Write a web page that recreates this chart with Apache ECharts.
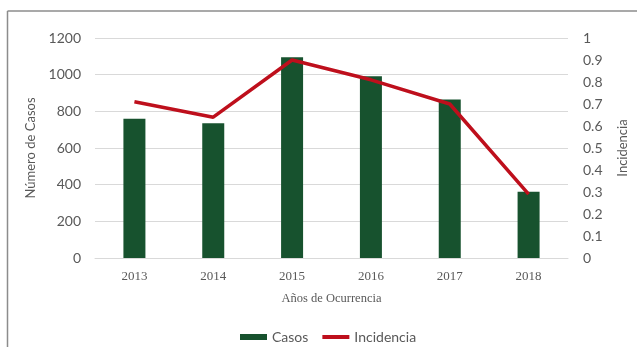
<!DOCTYPE html>
<html>
<head>
<meta charset="utf-8">
<script src="https://cdn.jsdelivr.net/npm/echarts@6/dist/echarts.min.js"></script>
<style>
  html, body { margin: 0; padding: 0; background: #fff; }
  #chart { width: 637px; height: 347px; }
</style>
</head>
<body>
<div id="chart"></div>
<script>
// Casos registrados e incidencia por año de ocurrencia
const years = ['2013', '2014', '2015', '2016', '2017', '2018'];
const casos = [760, 735, 1095, 992, 865, 362];
const incidencia = [0.71, 0.64, 0.90, 0.81, 0.70, 0.29];
const casosTicks = [0, 200, 400, 600, 800, 1000, 1200];
const incidenciaTicks = [0, 0.1, 0.2, 0.3, 0.4, 0.5, 0.6, 0.7, 0.8, 0.9, 1];

const grayText = '#595959';
const sans = 'Lato';
const serif = 'Liberation Serif';
const barColor = '#17522e';
const lineColor = '#be0f1c';

const chart = echarts.init(document.getElementById('chart'), null, { renderer: 'canvas' });

chart.setOption({
  animation: false,
  backgroundColor: '#fff',
  graphic: [
    // frame around the chart (top and left edges)
    { type: 'line', shape: { x1: 7.5, y1: 11, x2: 637, y2: 11 }, style: { stroke: '#8c8c8c', lineWidth: 1.5 } },
    { type: 'line', shape: { x1: 7.5, y1: 11, x2: 7.5, y2: 347 }, style: { stroke: '#8c8c8c', lineWidth: 1.5 } }
  ],
  grid: { left: 95, right: 67, top: 38, bottom: 89, containLabel: false },
  legend: {
    left: 235,
    top: 325,
    itemWidth: 27,
    itemHeight: 6,
    itemGap: 14,
    textStyle: { fontFamily: sans, fontSize: 14, color: grayText },
    data: [
      { name: 'Casos', icon: 'rect' },
      { name: 'Incidencia', icon: 'path://M0,0H27V4H0Z', itemStyle: { color: lineColor } }
    ]
  },
  xAxis: {
    type: 'category',
    data: years,
    name: 'Años de Ocurrencia',
    nameLocation: 'middle',
    nameGap: 34,
    nameTextStyle: { fontFamily: serif, fontSize: 12.5, color: grayText },
    axisLine: { lineStyle: { color: '#d9d9d9', width: 1 } },
    axisTick: { show: false },
    axisLabel: { fontFamily: serif, fontSize: 13, color: grayText, margin: 12 }
  },
  yAxis: [
    {
      type: 'value',
      min: casosTicks[0],
      max: casosTicks[casosTicks.length - 1],
      interval: casosTicks[1] - casosTicks[0],
      name: 'Número de Casos',
      nameLocation: 'middle',
      nameGap: 54,
      nameTextStyle: { fontFamily: sans, fontSize: 13, color: grayText },
      axisLine: { show: false },
      axisTick: { show: false },
      axisLabel: {
        fontFamily: sans, fontSize: 14, color: grayText, margin: 14,
        formatter: v => String(v)
      },
      splitLine: { lineStyle: { color: '#d9d9d9', width: 1 } }
    },
    {
      type: 'value',
      position: 'right',
      min: incidenciaTicks[0],
      max: incidenciaTicks[incidenciaTicks.length - 1],
      interval: 0.1,
      name: 'Incidencia',
      nameLocation: 'middle',
      nameGap: 48,
      nameTextStyle: { fontFamily: sans, fontSize: 13, color: grayText },
      axisLine: { show: false },
      axisTick: { show: false },
      axisLabel: {
        fontFamily: sans, fontSize: 14, color: grayText, margin: 15,
        formatter: v => String(Math.round(v * 10) / 10)
      },
      splitLine: { show: false }
    }
  ],
  series: [
    {
      name: 'Casos',
      type: 'bar',
      yAxisIndex: 0,
      data: casos,
      barWidth: 22,
      itemStyle: { color: barColor }
    },
    {
      name: 'Incidencia',
      type: 'line',
      yAxisIndex: 1,
      data: incidencia,
      symbol: 'none',
      lineStyle: { color: lineColor, width: 3.5 },
      itemStyle: { color: lineColor }
    }
  ]
});
</script>
</body>
</html>
